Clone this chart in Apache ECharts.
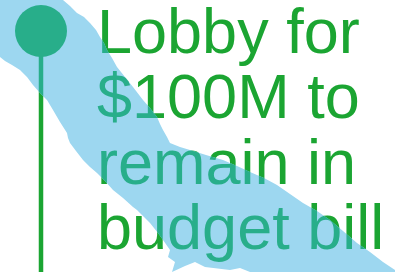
<!DOCTYPE html>
<html style="height: 100%">
<head>
  <meta charset="utf-8">
  <script src="https://cdn.jsdelivr.net/npm/echarts/dist/echarts.min.js"></script>
</head>
<body style="height: 100%; margin: 0; background: #fff">
<div id="container" style="width: 395px; height: 272px"></div>
<script>
// text of the milestone
var labelLines = ['Lobby for', '$100M to', 'remain in', 'budget bill'];

// milestone marker: [x, y] of the dot on a 0..395 / 0..272 plane
var markerPoint = [41, 31];
var labelAnchor = [97, 3];

// brush stroke outline, upper/right edge from top-left to bottom-right
var bandUpper = [
  [63, 0], [70, 6], [77, 13], [84, 17], [90, 23], [96, 30], [100, 37], [104, 43], [107, 50],
  [112, 58], [117, 67], [125, 77], [133, 87], [143, 100], [150, 108], [157, 117], [160, 124],
  [163, 130], [167, 137], [170, 143], [180, 147], [190, 150], [206, 155], [223, 160],
  [237, 166], [250, 172], [264, 178], [277, 185], [290, 194], [303, 203], [317, 211],
  [330, 220], [343, 231], [357, 243], [370, 252], [383, 262], [395, 270], [395, 272]
];
// lower/left edge from bottom-right back to top-left
var bandLower = [
  [395, 272], [250, 272], [240, 268], [230, 270], [205, 267], [195, 262], [185, 266],
  [172, 272], [175, 262], [168, 257], [170, 250], [163, 240], [158, 233], [150, 223],
  [142, 215], [137, 210], [133, 207], [123, 198], [113, 190], [105, 181], [97, 173],
  [90, 167], [83, 160], [76, 151], [70, 143], [68, 138], [67, 133], [60, 122], [53, 110],
  [47, 100], [40, 93], [33, 85], [27, 77], [20, 70], [12, 65], [5, 61], [0, 57], [0, 0]
];

var blue = '#9dd7f0';
var green = '#1ba532';
var teal = '#28ae8a';

var dom = document.getElementById('container');
var myChart = echarts.init(dom, null, { renderer: 'canvas' });

function bandPoints(api) {
  return bandUpper.concat(bandLower).map(function (p) {
    return api.coord(p);
  });
}

function buildMarks(api, color) {
  var c = api.coord(markerPoint);
  var bottom = api.coord([markerPoint[0], 272]);
  var t = api.coord(labelAnchor);
  return [
    {
      type: 'line',
      shape: { x1: c[0], y1: c[1], x2: bottom[0], y2: bottom[1] },
      style: { stroke: color, lineWidth: 4.5 }
    },
    {
      type: 'circle',
      shape: { cx: c[0], cy: c[1], r: 26 },
      style: { fill: color }
    },
    {
      type: 'text',
      x: t[0], y: t[1],
      style: {
        text: labelLines.join('\n'),
        fill: color,
        font: '63px "Liberation Sans", Arial, sans-serif',
        lineHeight: 65.3,
        verticalAlign: 'top',
        align: 'left'
      }
    }
  ];
}

var option = {
  backgroundColor: 'transparent',
  animation: false,
  grid: { left: 0, right: 0, top: 0, bottom: 0 },
  xAxis: { type: 'value', min: 0, max: 395, show: false },
  yAxis: { type: 'value', min: 0, max: 272, inverse: true, show: false },
  series: [
    {
      // marker and label, plain green
      type: 'custom',
      silent: true,
      clip: false,
      z: 1,
      data: [0],
      renderItem: function (params, api) {
        return { type: 'group', children: buildMarks(api, green) };
      }
    },
    {
      // the brush stroke
      type: 'custom',
      silent: true,
      clip: false,
      z: 2,
      data: [0],
      renderItem: function (params, api) {
        return { type: 'polygon', shape: { points: bandPoints(api) }, style: { fill: blue } };
      }
    },
    {
      // same marks again, tinted, only inside the stroke
      type: 'custom',
      silent: true,
      clip: false,
      z: 3,
      data: [0],
      renderItem: function (params, api) {
        return {
          type: 'group',
          clipPath: { type: 'polygon', shape: { points: bandPoints(api) } },
          children: buildMarks(api, teal)
        };
      }
    }
  ]
};

myChart.setOption(option);
</script>
</body>
</html>
